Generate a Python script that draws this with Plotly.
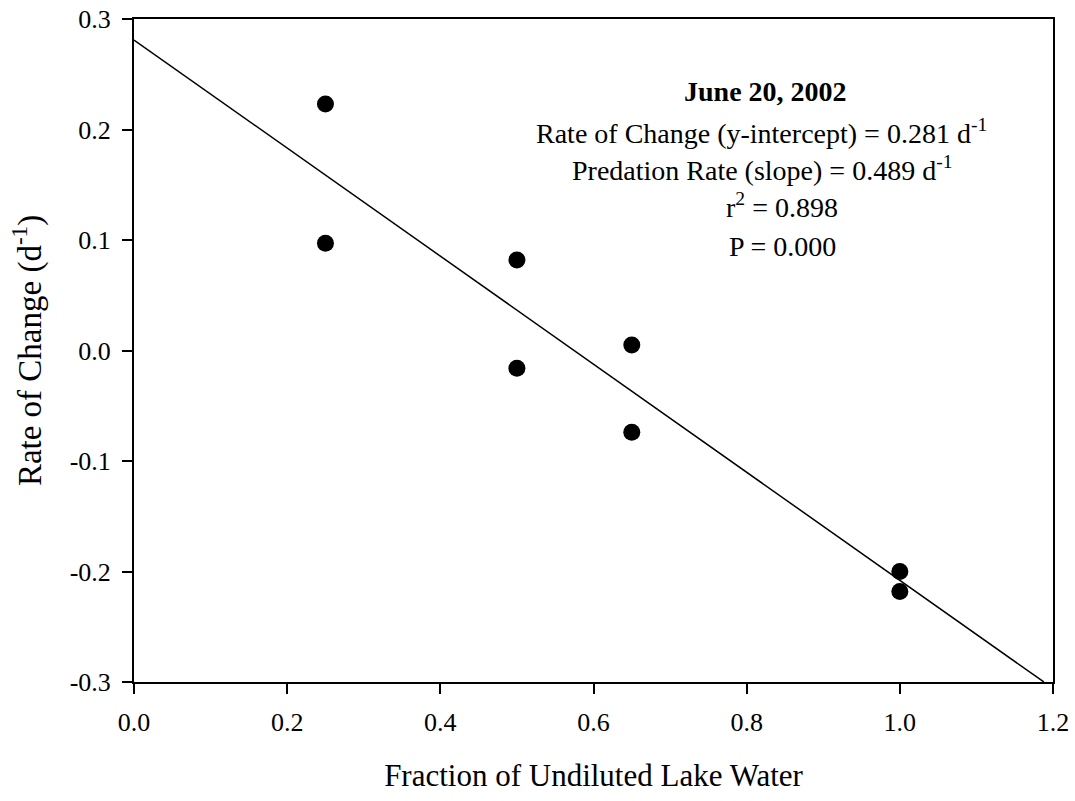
import plotly.graph_objects as go

# Data
frac = [0.25, 0.25, 0.50, 0.50, 0.65, 0.65, 1.00, 1.00]
rate = [0.223, 0.097, 0.082, -0.016, 0.005, -0.074, -0.200, -0.218]
intercept = 0.281
slope = -0.489
line_x = [0.0, 1.188]
line_y = [intercept + slope * v for v in line_x]

x_ticks = [0.0, 0.2, 0.4, 0.6, 0.8, 1.0, 1.2]
x_ticktext = ["0.0", "0.2", "0.4", "0.6", "0.8", "1.0", "1.2"]
y_ticks = [-0.3, -0.2, -0.1, 0.0, 0.1, 0.2, 0.3]
y_ticktext = ["-0.3", "-0.2", "-0.1", "0.0", "0.1", "0.2", "0.3"]

ann_lines = [
    "<b>June 20, 2002</b>",
    "Rate of Change (y-intercept) = 0.281 d<sup>-1</sup>",
    "Predation Rate (slope) = 0.489 d<sup>-1</sup>",
    "r<sup>2</sup> = 0.898",
    "P = 0.000",
]
ann_x = [0.825, 0.820, 0.821, 0.846, 0.847]
ann_y = [0.234, 0.198, 0.165, 0.131, 0.094]

FONT = "Liberation Serif"

fig = go.Figure()
fig.add_trace(go.Scatter(x=line_x, y=line_y, mode="lines",
                         line=dict(color="black", width=1.5),
                         showlegend=False, hoverinfo="skip"))
fig.add_trace(go.Scatter(x=frac, y=rate, mode="markers",
                         marker=dict(color="black", size=17),
                         showlegend=False))

for txt, xx, yy in zip(ann_lines, ann_x, ann_y):
    fig.add_annotation(x=xx, y=yy, xref="x", yref="y", text=txt,
                       showarrow=False, xanchor="center", yanchor="middle",
                       font=dict(family=FONT, size=28, color="black"))

fig.update_layout(
    width=1075, height=801,
    margin=dict(l=134, r=22, t=19, b=119, autoexpand=False),
    paper_bgcolor="white", plot_bgcolor="white",
    font=dict(family=FONT, size=26, color="black"),
    xaxis=dict(range=[0, 1.2], tickvals=x_ticks, ticktext=x_ticktext,
               showline=True, linecolor="black", linewidth=2, mirror=True,
               ticks="outside", ticklen=10, tickwidth=2, tickcolor="black",
               ticklabelstandoff=6, automargin=False,
               showgrid=False, zeroline=False,
               title=dict(text="Fraction of Undiluted Lake Water", standoff=28,
                          font=dict(size=31))),
    yaxis=dict(range=[-0.3, 0.3], tickvals=y_ticks, ticktext=y_ticktext,
               showline=True, linecolor="black", linewidth=2, mirror=True,
               ticks="outside", ticklen=10, tickwidth=2, tickcolor="black",
               ticklabelstandoff=6, automargin=False,
               showgrid=False, zeroline=False,
               title=dict(text="Rate of Change (d<sup>-1</sup>)", standoff=18,
                          font=dict(size=33))),
)

fig.write_html("out.html")
